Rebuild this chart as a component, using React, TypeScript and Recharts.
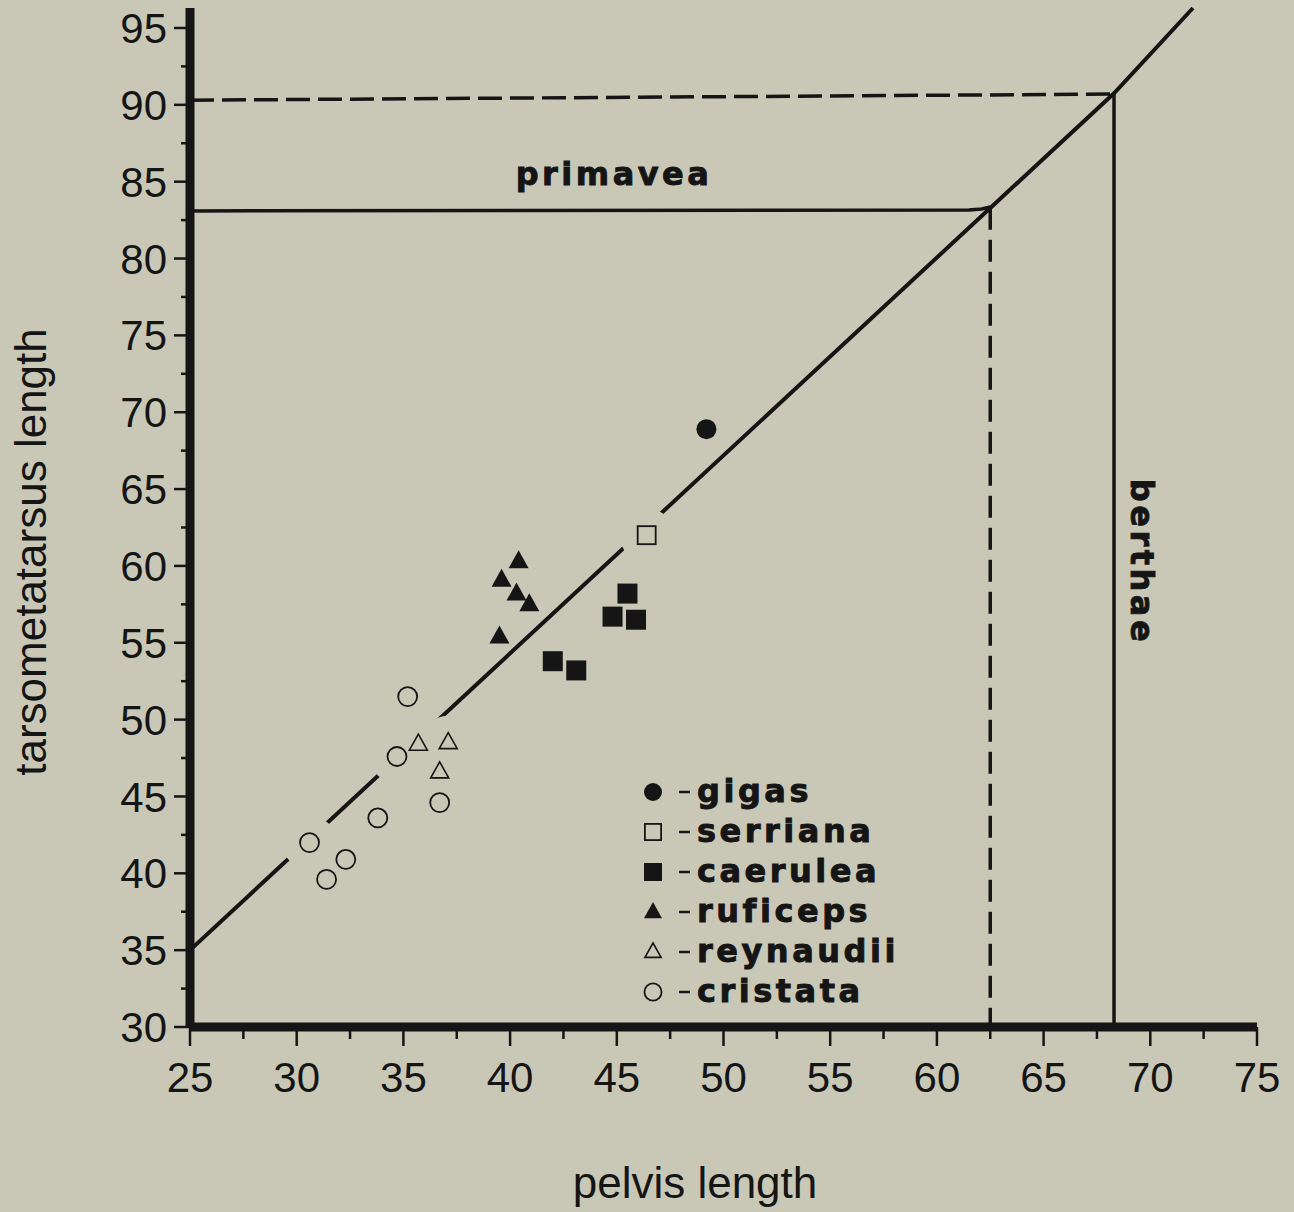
import { ScatterChart, Scatter, XAxis, YAxis } from 'recharts'

const INK = '#151515'
const PAPER = '#c9c8b6'
const SANS = '"Liberation Sans", Arial, Helvetica, sans-serif'
const BOLD = '"DejaVu Sans", Verdana, sans-serif'

const xTicks = [25, 27.5, 30, 32.5, 35, 37.5, 40, 42.5, 45, 47.5, 50, 52.5, 55, 57.5, 60, 62.5, 65, 67.5, 70, 72.5, 75]
const yTicks = [30, 32.5, 35, 37.5, 40, 42.5, 45, 47.5, 50, 52.5, 55, 57.5, 60, 62.5, 65, 67.5, 70, 72.5, 75, 77.5, 80, 82.5, 85, 87.5, 90, 92.5, 95]

const gigas = [{ x: 49.2, y: 68.9 }]
const serriana = [{ x: 46.4, y: 62.0 }]
const caerulea = [
  { x: 45.5, y: 58.2 },
  { x: 44.8, y: 56.7 },
  { x: 45.9, y: 56.5 },
  { x: 42.0, y: 53.8 },
  { x: 43.1, y: 53.2 },
]
const ruficeps = [
  { x: 40.4, y: 60.3 },
  { x: 39.6, y: 59.1 },
  { x: 40.3, y: 58.2 },
  { x: 40.9, y: 57.5 },
  { x: 39.5, y: 55.4 },
]
const reynaudii = [
  { x: 35.7, y: 48.4 },
  { x: 37.1, y: 48.5 },
  { x: 36.7, y: 46.6 },
]
const cristata = [
  { x: 35.2, y: 51.5 },
  { x: 34.7, y: 47.6 },
  { x: 36.7, y: 44.6 },
  { x: 33.8, y: 43.6 },
  { x: 30.6, y: 42.0 },
  { x: 32.3, y: 40.9 },
  { x: 31.4, y: 39.6 },
]

// reference lines (as drawn in the printed figure)
const regression = [{ x: 25, y: 35 }, { x: 68.3, y: 90.75 }, { x: 72.0, y: 96.3 }]
const primavea = [{ x: 25, y: 83.1 }, { x: 61.5, y: 83.15 }, { x: 62.1, y: 83.22 }, { x: 62.5, y: 83.35 }]
const primaveaDrop = [{ x: 62.5, y: 83.3 }, { x: 62.5, y: 30 }]
const berthae = [{ x: 68.3, y: 90.75 }, { x: 68.3, y: 30 }]
const berthaeLevel = [{ x: 25, y: 90.3 }, { x: 68.3, y: 90.7 }]

type Kind = 'dot' | 'openSquare' | 'square' | 'triangle' | 'openTriangle' | 'circle'

const species: { name: string; kind: Kind; data: { x: number; y: number }[]; open: boolean }[] = [
  { name: 'gigas', kind: 'dot', data: gigas, open: false },
  { name: 'serriana', kind: 'openSquare', data: serriana, open: true },
  { name: 'caerulea', kind: 'square', data: caerulea, open: false },
  { name: 'ruficeps', kind: 'triangle', data: ruficeps, open: false },
  { name: 'reynaudii', kind: 'openTriangle', data: reynaudii, open: true },
  { name: 'cristata', kind: 'circle', data: cristata, open: true },
]

function Marker({ kind, cx, cy, scale = 1 }: { kind: Kind; cx: number; cy: number; scale?: number }) {
  const s = scale
  switch (kind) {
    case 'dot':
      return <circle cx={cx} cy={cy} r={10 * s} fill={INK} />
    case 'circle':
      return <circle cx={cx} cy={cy} r={9.5 * s} fill="none" stroke={INK} strokeWidth={1.8} />
    case 'openSquare':
      return <rect x={cx - 9 * s} y={cy - 9 * s} width={18 * s} height={18 * s} fill="none" stroke={INK} strokeWidth={1.8} />
    case 'square':
      return <rect x={cx - 10 * s} y={cy - 10 * s} width={20 * s} height={20 * s} fill={INK} />
    case 'triangle':
      return (
        <polygon
          points={`${cx},${cy - 11 * s} ${cx + 10 * s},${cy + 7 * s} ${cx - 10 * s},${cy + 7 * s}`}
          fill={INK}
        />
      )
    default:
      return (
        <polygon
          points={`${cx},${cy - 10 * s} ${cx + 9 * s},${cy + 6 * s} ${cx - 9 * s},${cy + 6 * s}`}
          fill="none"
          stroke={INK}
          strokeWidth={1.6}
        />
      )
  }
}

const XTick = (props: any) => {
  const { x, y, payload } = props
  const v = payload.value
  const major = v % 5 === 0
  return (
    <g>
      <line x1={x} x2={x} y1={y} y2={y + (major ? 19 : 12)} stroke={INK} strokeWidth={2.5} />
      {major && (
        <text x={x} y={y + 65} textAnchor="middle" fontSize={42} fontFamily={SANS} fill={INK}>
          {v}
        </text>
      )}
    </g>
  )
}

const YTick = (props: any) => {
  const { x, y, payload } = props
  const v = payload.value
  const major = v % 5 === 0
  return (
    <g>
      <line x1={x - (major ? 16 : 9)} x2={x} y1={y} y2={y} stroke={INK} strokeWidth={2.5} />
      {major && (
        <text x={x - 23} y={y} dy="0.36em" textAnchor="end" fontSize={42} fontFamily={SANS} fill={INK}>
          {v}
        </text>
      )}
    </g>
  )
}

const noDot = () => <g />

const boldText = {
  fontWeight: 'bold' as const,
  fontFamily: BOLD,
  fill: INK,
  stroke: INK,
  strokeWidth: 0.9,
}

export default function App() {
  return (
    <div style={{ position: 'relative', width: 1294, height: 1212, background: PAPER }}>
      <style>{'body{margin:0}'}</style>
      <ScatterChart width={1294} height={1212} margin={{ top: 8, right: 37, bottom: 125, left: 90 }}>
        <XAxis
          type="number"
          dataKey="x"
          domain={[25, 75]}
          ticks={xTicks}
          interval={0}
          tickSize={0}
          tickMargin={0}
          height={60}
          tick={<XTick />}
          axisLine={{ stroke: INK, strokeWidth: 9 }}
        />
        <YAxis
          type="number"
          dataKey="y"
          domain={[30, 96.3]}
          ticks={yTicks}
          interval={0}
          tickSize={0}
          tickMargin={0}
          width={100}
          tick={<YTick />}
          axisLine={{ stroke: INK, strokeWidth: 9 }}
        />
        <Scatter data={regression} line={{ stroke: INK, strokeWidth: 4 }} shape={noDot} legendType="none" isAnimationActive={false} />
        <Scatter data={primavea} line={{ stroke: INK, strokeWidth: 3.5 }} shape={noDot} legendType="none" isAnimationActive={false} />
        <Scatter
          data={primaveaDrop}
          line={{ stroke: INK, strokeWidth: 3.5, strokeDasharray: '22 10' }}
          shape={noDot}
          legendType="none"
          isAnimationActive={false}
        />
        <Scatter data={berthae} line={{ stroke: INK, strokeWidth: 3.5 }} shape={noDot} legendType="none" isAnimationActive={false} />
        <Scatter
          data={berthaeLevel}
          line={{ stroke: INK, strokeWidth: 3.5, strokeDasharray: '24 8' }}
          shape={noDot}
          legendType="none"
          isAnimationActive={false}
        />
        {species
          .filter((s) => s.open)
          .map((s) => (
            <Scatter
              key={`halo-${s.name}`}
              data={s.data}
              shape={(p: any) => <circle cx={p.cx} cy={p.cy} r={27} fill={PAPER} />}
              legendType="none"
              isAnimationActive={false}
            />
          ))}
        {species.map((s) => (
          <Scatter
            key={s.name}
            name={s.name}
            data={s.data}
            shape={(p: any) => <Marker kind={s.kind} cx={p.cx} cy={p.cy} />}
            isAnimationActive={false}
          />
        ))}
      </ScatterChart>
      <svg width={1294} height={1212} style={{ position: 'absolute', left: 0, top: 0, pointerEvents: 'none' }}>
        <text
          x={30}
          y={552}
          transform="rotate(-90 30 552)"
          textAnchor="middle"
          dominantBaseline="central"
          fontSize={44}
          fontFamily={SANS}
          fill={INK}
        >
          tarsometatarsus length
        </text>
        <text x={695} y={1198} textAnchor="middle" fontSize={44} fontFamily={SANS} fill={INK}>
          pelvis length
        </text>
        <text x={614} y={185} textAnchor="middle" fontSize={32} letterSpacing={3.5} {...boldText}>
          primavea
        </text>
        <text
          x={1142}
          y={562}
          transform="rotate(90 1142 562)"
          textAnchor="middle"
          dominantBaseline="central"
          fontSize={32}
          letterSpacing={3.5}
          {...boldText}
        >
          berthae
        </text>
        {species.map((s, i) => {
          const cy = 792 + i * 40
          return (
            <g key={s.name}>
              <Marker kind={s.kind} cx={653} cy={cy} scale={0.9} />
              <line x1={679} x2={690} y1={cy} y2={cy} stroke={INK} strokeWidth={2.5} />
              <text x={697} y={cy + 10} fontSize={32} letterSpacing={3.5} {...boldText}>
                {s.name}
              </text>
            </g>
          )
        })}
      </svg>
    </div>
  )
}
